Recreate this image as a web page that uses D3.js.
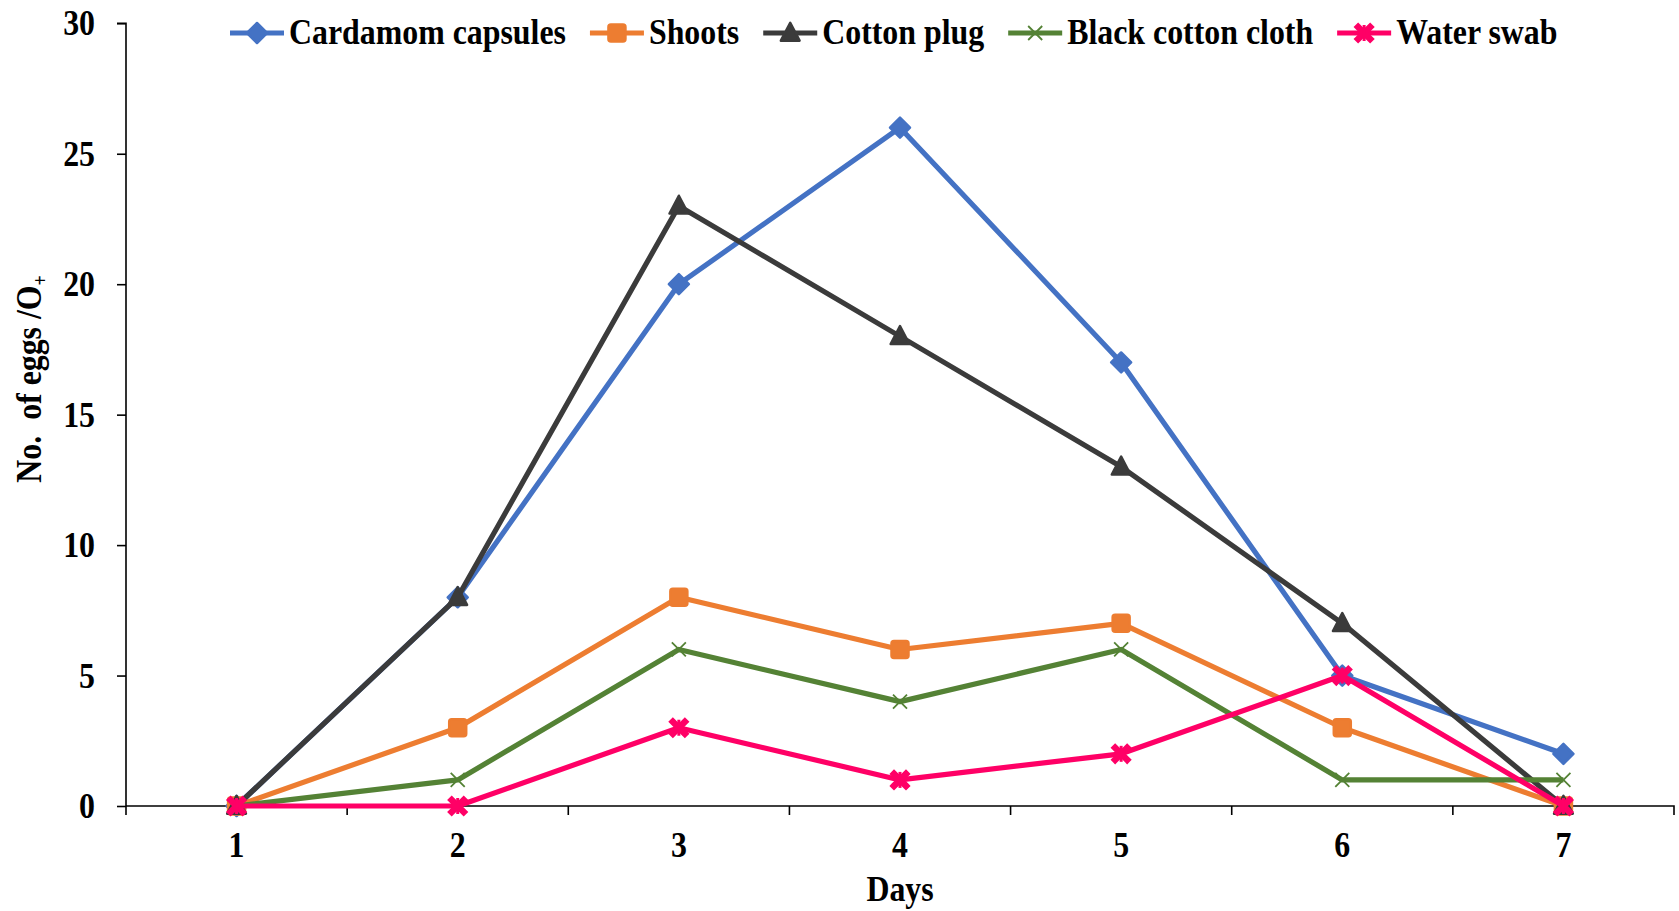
<!DOCTYPE html>
<html>
<head>
<meta charset="utf-8">
<script src="https://cdn.jsdelivr.net/npm/d3@7"></script>
<style>
  html, body { margin: 0; padding: 0; background: #fff; }
  svg text { font-family: "Liberation Serif", "Times New Roman", serif; font-weight: bold; fill: #000; }
</style>
</head>
<body>
<svg id="chart" width="1679" height="911"></svg>
<script>
// Egg counts per day for each oviposition substrate
const days = ["1", "2", "3", "4", "5", "6", "7"];
const cardamomCapsules = [0, 8, 20, 26, 17, 5, 2];
const shoots = [0, 3, 8, 6, 7, 3, 0];
const cottonPlug = [0, 8, 23, 18, 13, 7, 0];
const blackCottonCloth = [0, 1, 6, 4, 6, 1, 1];
const waterSwab = [0, 0, 3, 1, 2, 5, 0];
const yTicks = [0, 5, 10, 15, 20, 25, 30];

const series = [
  { name: "Cardamom capsules", values: cardamomCapsules, color: "#4472C4", marker: "diamond" },
  { name: "Shoots", values: shoots, color: "#ED7D31", marker: "square" },
  { name: "Cotton plug", values: cottonPlug, color: "#3B3B3B", marker: "triangle" },
  { name: "Black cotton cloth", values: blackCottonCloth, color: "#548235", marker: "x" },
  { name: "Water swab", values: waterSwab, color: "#FF0066", marker: "star" }
];

const svg = d3.select("#chart");
const plot = { left: 126, right: 1674, top: 23.3, bottom: 806 };
const SX = 0.885;     // narrow serif glyphs
const FS = 36;

const x = d3.scaleBand().domain(days).range([plot.left, plot.right]);
const y = d3.scaleLinear().domain([0, 30]).range([plot.bottom, plot.top]);
const cx = d => x(d) + x.bandwidth() / 2;

function label(g, tx, ty, str, anchor, rot) {
  const t = g.append("text")
    .attr("transform", `translate(${tx},${ty})` + (rot ? ` rotate(${rot})` : "") + ` scale(${SX},1)`)
    .attr("text-anchor", anchor || "start")
    .style("font-size", FS + "px")
    .text(str);
  return t;
}

// Axes
const yAxis = svg.append("g")
  .attr("transform", `translate(${plot.left},0)`)
  .call(d3.axisLeft(y).tickValues(yTicks).tickSize(9).tickFormat(""));
const xAxis = svg.append("g")
  .attr("transform", `translate(0,${plot.bottom})`)
  .call(d3.axisBottom(x).tickSize(0).tickFormat(""));
[yAxis, xAxis].forEach(a => {
  a.select(".domain").attr("stroke", "#000").attr("stroke-width", 1.6);
  a.selectAll(".tick line").attr("stroke", "#000").attr("stroke-width", 1.6);
});
yAxis.select(".domain").attr("d", `M-9,${plot.top}H0V${plot.bottom}`);
xAxis.select(".domain").attr("d", `M${plot.left},0H${plot.right}V9`);

// x tick marks at category boundaries
const bounds = days.map(d => x(d));
svg.append("g").selectAll("line").data(bounds).join("line")
  .attr("x1", d => d).attr("x2", d => d)
  .attr("y1", plot.bottom).attr("y2", plot.bottom + 9)
  .attr("stroke", "#000").attr("stroke-width", 1.6);

// tick labels
const tl = svg.append("g");
yTicks.forEach(v => label(tl, 95, y(v) + 12, String(v), "end"));
days.forEach(d => label(tl, cx(d), 857, d, "middle"));

// axis titles
label(svg, 900, 901, "Days", "middle");
const yl = label(svg, 41, 379, "", "middle", -90);
yl.append("tspan").text("No.\u00A0 of eggs /O");
yl.append("tspan").attr("baseline-shift", "-30%").style("font-size", "20px").text("+");

// markers
function drawMarker(g, type, color, px, py) {
  if (type === "diamond") {
    const r = 10;
    g.append("path").attr("d", `M${px},${py - r}L${px + r},${py}L${px},${py + r}L${px - r},${py}Z`)
      .attr("fill", color).attr("stroke", color).attr("stroke-width", 2.5).attr("stroke-linejoin", "round");
  } else if (type === "square") {
    const s = 17;
    g.append("rect").attr("x", px - s / 2).attr("y", py - s / 2).attr("width", s).attr("height", s)
      .attr("rx", 2.5).attr("fill", color).attr("stroke", color).attr("stroke-width", 2.5);
  } else if (type === "triangle") {
    const h = 17;
    g.append("path").attr("d", `M${px},${py - h * 0.6}L${px + h * 0.55},${py + h * 0.45}L${px - h * 0.55},${py + h * 0.45}Z`)
      .attr("fill", color).attr("stroke", color).attr("stroke-width", 2.5).attr("stroke-linejoin", "round");
  } else if (type === "x") {
    const r = 7;
    g.append("path").attr("d", `M${px - r},${py - r}L${px + r},${py + r}M${px - r},${py + r}L${px + r},${py - r}`)
      .attr("stroke", color).attr("stroke-width", 1.8).attr("fill", "none");
  } else if (type === "star") {
    const r = 6;
    g.append("path").attr("d", `M${px - r},${py - r}L${px + r},${py + r}M${px - r},${py + r}L${px + r},${py - r}`)
      .attr("stroke", color).attr("stroke-width", 6.5).attr("fill", "none").attr("stroke-linecap", "square");
    g.append("path").attr("d", `M${px},${py - r - 2}V${py + r + 2}`)
      .attr("stroke", color).attr("stroke-width", 3).attr("fill", "none");
  }
}

// series lines and markers
const line = d3.line().x((v, i) => cx(days[i])).y(v => y(v));
series.forEach(s => {
  const g = svg.append("g");
  g.append("path").attr("d", line(s.values))
    .attr("fill", "none").attr("stroke", s.color).attr("stroke-width", 5.2)
    .attr("stroke-linejoin", "round");
  s.values.forEach((v, i) => drawMarker(g, s.marker, s.color, cx(days[i]), y(v)));
});

// legend
const lg = svg.append("g");
let lx = 230;
const ly = 33;
series.forEach(s => {
  lg.append("line").attr("x1", lx).attr("x2", lx + 54).attr("y1", ly).attr("y2", ly)
    .attr("stroke", s.color).attr("stroke-width", 5);
  drawMarker(lg, s.marker, s.color, lx + 27, ly);
  const t = label(lg, lx + 59, ly + 11, s.name, "start");
  lx += 59 + t.node().getComputedTextLength() * SX + 24;
});
</script>
</body>
</html>
